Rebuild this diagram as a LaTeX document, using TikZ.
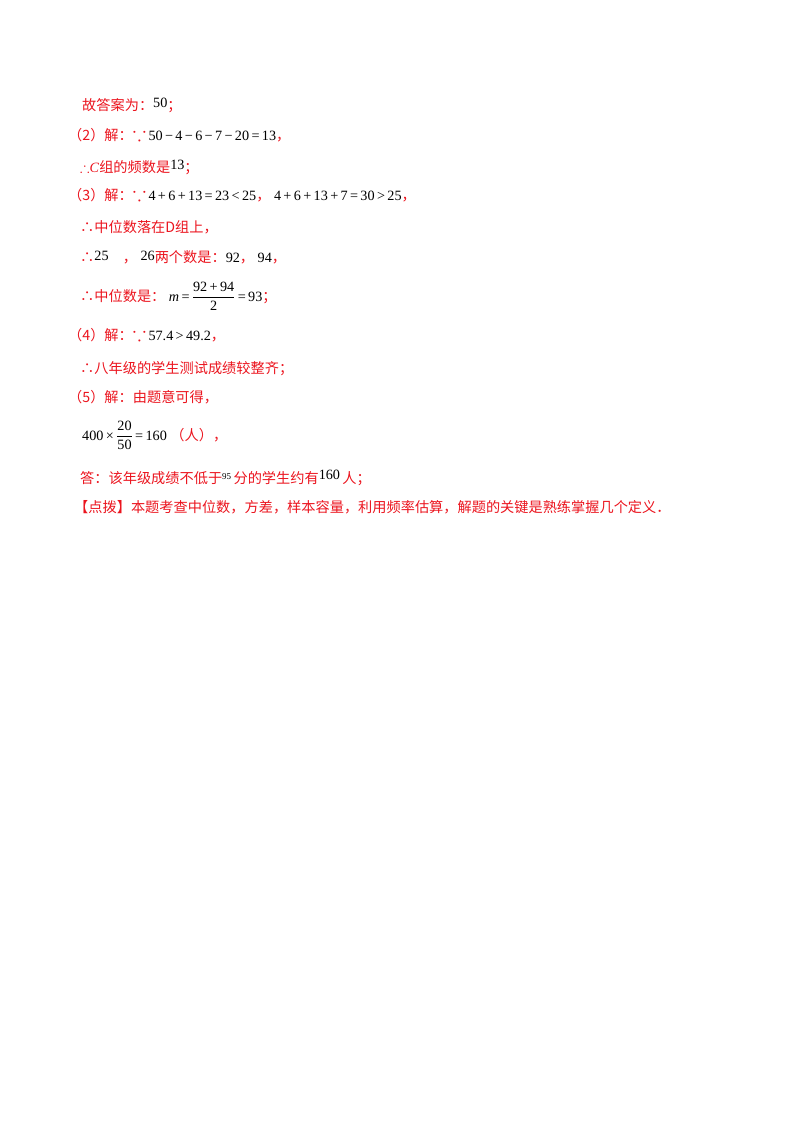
\documentclass[tikz,border=0pt]{standalone}
\usepackage{amsmath,amssymb,graphicx}
\usepackage{fontspec}
\setmainfont{Liberation Serif}
\newfontfamily\cjk{Noto Sans CJK SC}
\definecolor{ansred}{RGB}{235,20,30}
\newcommand{\zh}[1]{{\cjk\color{ansred}#1}}
\newcommand{\rd}[1]{{\color{ansred}#1}}
\newcommand{\bec}{\rd{\scalebox{1.4}{$\because$}}\,}
\newcommand{\op}[1]{\,#1\,}
\newcommand{\fr}[2]{\ensuremath{\genfrac{}{}{0.5pt}{0}{\text{#1}}{\text{#2}}}}
\begin{document}
\begin{tikzpicture}[x=1pt,y=-1pt,
  ln/.style={anchor=base west,inner sep=0pt,font=\fontsize{14.2}{17}\selectfont}]
\useasboundingbox (0,0) rectangle (800,1132);
\node[ln] (l1) at (82,110) {\zh{故答案为：}\raisebox{2pt}{50}\zh{；}};
\node[ln] (l2) at (68,140) {\zh{（2）解：}\bec 50\op{−}4\op{−}6\op{−}7\op{−}20\op{=}13\zh{，}};
\node[ln] (l3) at (80,172) {\rd{$\therefore$\textit{C}}\zh{组的频数是}\raisebox{3pt}{13}\zh{；}};
\node[ln] (l4) at (68,200) {\zh{（3）解：}\bec 4\op{+}6\op{+}13\op{=}23\op{<}25\zh{，}\ 4\op{+}6\op{+}13\op{+}7\op{=}30\op{>}25\zh{，}};
\node[ln] (l5) at (80,232) {\zh{∴中位数落在D组上，}};
\node[ln] (l6) at (80,262) {\zh{∴}\raisebox{2pt}{25}\quad\zh{，}\ \raisebox{2pt}{26}\zh{两个数是：}92\zh{，}\ 94\zh{，}};
\node[ln] (l7) at (80,301) {\zh{∴中位数是：}\ \textit{m}\op{=}\fr{92\op{+}94}{2}\op{=}93\zh{；}};
\node[ln] (l8) at (68,340) {\zh{（4）解：}\bec 57.4\op{>}49.2\zh{，}};
\node[ln] (l9) at (80,373) {\zh{∴八年级的学生测试成绩较整齐；}};
\node[ln] (l10) at (68,402) {\zh{（5）解：由题意可得，}};
\node[ln] (l11) at (82,440) {400\op{×}\fr{20}{50}\op{=}160\ \zh{（人），}};
\node[ln] (l12) at (80,483) {\zh{答：该年级成绩不低于}\raisebox{4pt}{\small 95}\,\zh{分的学生约有}\raisebox{4pt}{160}\,\zh{人；}};
\node[ln] (l13) at (74,512) {\zh{【点拨】本题考查中位数，方差，样本容量，利用频率估算，解题的关键是熟练掌握几个定义．}};
\end{tikzpicture}
\end{document}
